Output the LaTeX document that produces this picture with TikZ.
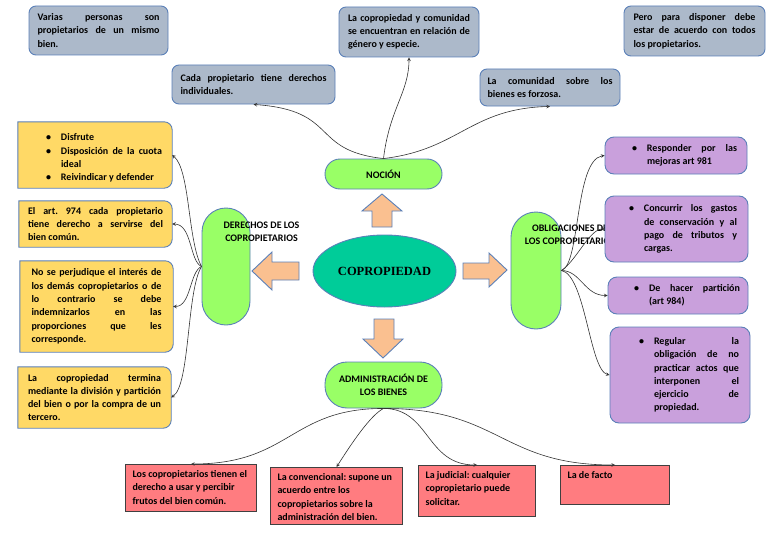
\documentclass[tikz,border=0pt]{standalone}
\usepackage{fontspec}
\setmainfont{Carlito}
\newfontfamily\titulofont{Liberation Serif}
\usetikzlibrary{arrows,shapes.geometric,backgrounds}

\definecolor{grisnota}{HTML}{ACB9CA}
\definecolor{oronota}{HTML}{FFD966}
\definecolor{lilanota}{HTML}{C9A0DC}
\definecolor{rojonota}{HTML}{FF7C80}
\definecolor{verdepill}{HTML}{99FF66}
\definecolor{verdecentro}{HTML}{00CC99}
\definecolor{durazno}{HTML}{FAC090}
\definecolor{bordeazul}{HTML}{5B80B8}
\definecolor{bordegris}{HTML}{404040}

\hyphenpenalty=10000
\exhyphenpenalty=10000
\tolerance=9999
\frenchspacing

\newcommand{\itm}{\par\leavevmode\llap{\textbullet\hspace{10pt}}}
\newcommand{\vineta}[3]{\makebox[#1][r]{\textbullet\hspace{10pt}}\parbox[t]{#2}{#3}}

\tikzset{
  texto/.style={font=\fontsize{10}{13.3}\selectfont\bfseries},
  gris/.style={texto, draw=bordeazul, line width=0.9pt, fill=grisnota, rounded corners=7pt, align=justify},
  oro/.style={texto, align=justify},
  oromarco/.style={draw=bordeazul, line width=0.9pt, fill=oronota},
  lila/.style={texto, draw=bordeazul, line width=0.9pt, fill=lilanota, rounded corners=9pt},
  rojo/.style={texto, draw=bordegris, line width=1.1pt, fill=rojonota, align=flush left, anchor=north west, inner xsep=7pt, inner ysep=4pt, text height=9pt},
  pill/.style={draw=bordeazul, line width=0.9pt, fill=verdepill, rounded corners=#1},
  flecha/.style={draw=bordeazul, line width=0.9pt, fill=durazno, line join=miter},
  link/.style={->, >=stealth, line width=0.6pt, draw=black!80}
}

\begin{document}
\begin{tikzpicture}[x=1pt, y=-1pt]
    \useasboundingbox (0,0) rectangle (768,543);

    % notas de la nocion
    \node[gris, minimum width=139pt, minimum height=49pt, text width=122pt] (varias) at (98.5,30.5) {Varias personas son\linebreak propietarios de un mismo\linebreak bien.};
    \node[gris, minimum width=140pt, minimum height=50pt, text width=122pt] (copcom) at (409,32) {La copropiedad y comunidad\linebreak se encuentran en relación de\linebreak género y especie.};
    \node[gris, minimum width=141pt, minimum height=50pt, text width=122pt] (pero) at (694.5,31) {Pero para disponer debe\linebreak estar de acuerdo con todos\linebreak los propietarios.};
    \node[gris, minimum width=163pt, minimum height=39pt, text width=146pt] (cada) at (253.5,84.5) {Cada propietario tiene derechos\linebreak individuales.};
    \node[gris, minimum width=140pt, minimum height=37pt, text width=125pt] (comunidad) at (550,87.5) {La comunidad sobre los\linebreak bienes es forzosa.};

    % derechos
    \node[oro, minimum width=154pt, minimum height=66pt, text width=134pt] (disfrute) at (95,155) {\leftskip=33pt\itm Disfrute\itm Disposición de la cuota\linebreak ideal\itm Reivindicar y defender\par};
    \node[oro, minimum width=153pt, minimum height=46pt, text width=135pt] (art) at (95.5,224) {El art. 974 cada propietario\linebreak tiene derecho a servirse del\linebreak bien común.};
    \node[oro, minimum width=153pt, minimum height=91pt, text width=130pt] (nose) at (96.5,306.5) {No se perjudique el interés de\linebreak los demás copropietarios o de\linebreak lo contrario se debe\linebreak indemnizarlos en las\linebreak proporciones que les\linebreak corresponde.};
    \node[oro, minimum width=153pt, minimum height=61pt, text width=133pt] (termina) at (94.5,397.5) {La copropiedad termina\linebreak mediante la división y partición\linebreak del bien o por la compra de un\linebreak tercero.};

    \begin{pgfonlayer}{background}
        \foreach \caja in {disfrute,art,nose,termina}
            \draw[oromarco] (\caja.south west) -- (\caja.north west) [rounded corners=8pt] -- (\caja.north east) -- (\caja.south east) [sharp corners] -- cycle;
    \end{pgfonlayer}

    % ramas verdes
    \node[pill=15pt, minimum width=117pt, minimum height=30pt, texto] (nocion) at (383.5,174) {NOCIÓN};
    \node[pill=22pt, minimum width=117pt, minimum height=46pt, texto, align=center] (admin) at (383.5,385) {ADMINISTRACIÓN DE\\LOS BIENES};
    \node[pill=24pt, minimum width=48pt, minimum height=117pt] (derechos) at (226,266.5) {};
    \node[pill=25pt, minimum width=50pt, minimum height=117pt] (oblig) at (536,270.5) {};
    \node[texto, align=center] (derechostxt) at (261.5,231.5) {DERECHOS DE LOS\\COPROPIETARIOS};
    \node[texto, align=center] (obligtxt) at (570,235) {OBLIGACIONES DE\\LOS COPROPIETARIOS};

    % centro
    \node[ellipse, draw=bordeazul, line width=0.9pt, fill=verdecentro, minimum width=143pt, minimum height=72pt, font=\titulofont\fontsize{12.5}{14}\selectfont\bfseries] (copro) at (384.5,271) {COPROPIEDAD};

    \draw[flecha] (372,227) -- (372,211) -- (362,211) -- (382,194) -- (402,211) -- (392,211) -- (392,227) -- cycle; % arriba
    \draw[flecha] (299,262) -- (272,262) -- (272,252) -- (252,271) -- (272,290) -- (272,280) -- (299,280) -- cycle; % izquierda
    \draw[flecha] (463,263) -- (489,263) -- (489,253) -- (507,270) -- (489,287) -- (489,279) -- (463,279) -- cycle; % derecha
    \draw[flecha] (374,319) -- (394,319) -- (394,339) -- (403,339) -- (383,358) -- (363,339) -- (374,339) -- cycle; % abajo

    % obligaciones
    \node[lila, minimum width=142pt, minimum height=37pt] (resp) at (676,155.5) {\vineta{32pt}{90pt}{Responder por las\linebreak mejoras art 981}};
    \node[lila, minimum width=143pt, minimum height=66pt] (concurrir) at (676.5,229) {\vineta{28pt}{93pt}{Concurrir los gastos\linebreak de conservación y al\linebreak pago de tributos y\linebreak cargas.}};
    \node[lila, minimum width=140pt, minimum height=37pt] (hacer) at (678,295.5) {\vineta{33pt}{91pt}{De hacer partición\linebreak (art 984)}};
    \node[lila, minimum width=140pt, minimum height=96pt] (regular) at (680,375) {\vineta{33pt}{85pt}{Regular la\linebreak obligación de no\linebreak practicar actos que\linebreak interponen el\linebreak ejercicio de\linebreak propiedad.}};

    % administracion
    \node[rojo, text width=117pt, text depth=30pt] (rojo1) at (125,464) {Los copropietarios tienen el\\derecho a usar y percibir\\frutos del bien común.};
    \node[rojo, text width=118pt, text depth=40pt] (rojo2) at (270,467) {La convencional: supone un\\acuerdo entre los\\copropietarios sobre la\\administración del bien.};
    \node[rojo, text width=103pt, text depth=34pt] (rojo3) at (418,465) {La judicial: cualquier\\copropietario puede\\solicitar.};
    \node[rojo, text width=95pt, text depth=22pt] (rojo4) at (560,465) {La de facto};

    % conectores
    \draw[link] (nocion.north) .. controls +(-74,-8) and +(86,6) .. (cada.south);
    \draw[link] (nocion.north) .. controls +(6,-50) and +(0,35) .. (copcom.south);
    \draw[link] (nocion.north) .. controls +(76,-9) and +(-80,2) .. (comunidad.south);

    \draw[link] (derechos.west) .. controls +(-14,-26) and +(18,15) .. (disfrute.east);
    \draw[link] (derechos.west) .. controls +(-12,-5) and +(20,0) .. (art.east);
    \draw[link] (derechos.west) .. controls +(-12,5) and +(18,0) .. (nose.east);
    \draw[link] (derechos.west) .. controls +(-15,24) and +(19,-12.5) .. (termina.east);

    \draw[link] (oblig.east) .. controls +(19,-5.5) and +(-30,4.5) .. (resp.west);
    \draw[link] (oblig.east) .. controls +(15,-10) and +(-15,0) .. (concurrir.west);
    \draw[link] (oblig.east) .. controls +(19,0) and +(-23,0) .. (hacer.west);
    \draw[link] (oblig.east) .. controls +(24,4.5) and +(-20,-5) .. (regular.west);

    \draw[link] (admin.south) .. controls +(-93.5,0) and +(99.5,0) .. (rojo1.north);
    \draw[link] (admin.south) .. controls +(-13.5,7) and +(14,-22) .. (rojo2.north);
    \draw[link] (admin.south) .. controls +(46.5,0) and +(-51.5,0) .. (rojo3.north);
    \draw[link] (admin.south) .. controls +(116.5,0) and +(-114.5,0) .. (rojo4.north);

\end{tikzpicture}
\end{document}
